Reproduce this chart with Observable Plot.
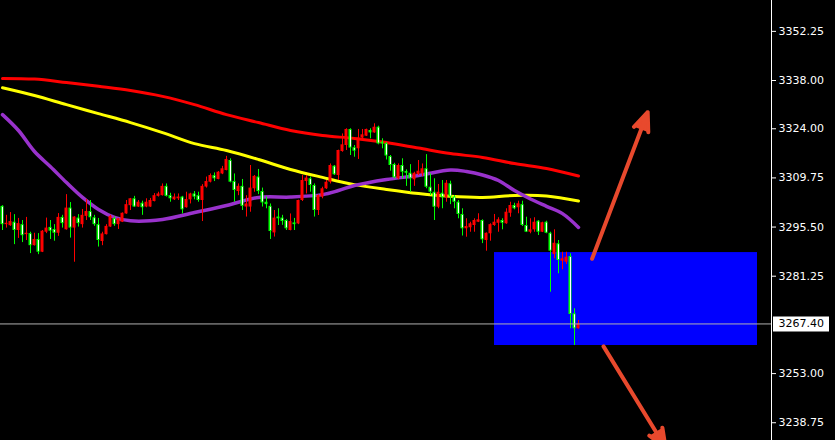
<!DOCTYPE html>
<html>
<head>
<meta charset="utf-8">
<script src="https://cdn.jsdelivr.net/npm/d3@7"></script>
<script src="https://cdn.jsdelivr.net/npm/@observablehq/plot@0.6"></script>
<style>
  html, body { margin: 0; padding: 0; background: #000; }
  #chart svg { display: block; overflow: hidden; }
</style>
</head>
<body>
<div id="chart"></div>
<script>
// OHLC bars, oldest first
const open = [3301.5,3296.2,3295.9,3296.9,3294.5,3296.2,3293.3,3293.6,3290.1,3291.9,3288.2,3294.0,3295.4,3294.8,3293.7,3298.3,3294.7,3301.0,3295.2,3298.1,3296.2,3298.6,3300.0,3298.2,3296.2,3291.3,3293.3,3295.5,3297.9,3296.2,3296.9,3299.3,3301.7,3303.7,3301.3,3302.4,3301.3,3301.3,3302.9,3304.4,3304.6,3307.3,3304.6,3303.4,3303.7,3304.2,3301.1,3303.4,3305.1,3304.6,3303.2,3307.1,3308.5,3310.4,3309.3,3310.9,3311.9,3314.8,3308.7,3305.8,3307.3,3301.3,3301.3,3306.6,3310.0,3305.8,3302.7,3301.5,3293.8,3298.4,3298.1,3297.4,3294.5,3296.7,3296.4,3303.2,3308.7,3309.5,3307.55,3300.3,3304.2,3306.6,3308.5,3313.15,3310.45,3317.4,3319.15,3323.8,3318.5,3318.2,3321.3,3321.85,3323.5,3322.8,3324.45,3320.1,3319.7,3315.95,3313.65,3309.5,3313.35,3311.6,3311.1,3309.2,3310.75,3310.9,3312.4,3307.05,3305.6,3301.25,3305.3,3304.0,3308.05,3304.2,3302.7,3299.15,3295.0,3295.3,3295.95,3296.9,3297.4,3291.6,3293.55,3295.95,3296.6,3297.4,3296.45,3299.5,3301.75,3301.1,3302.0,3295.95,3294.0,3294.7,3297.2,3294.0,3296.9,3293.7,3287.55,3290.65,3285.6,3285.3,3286.95,3270.35,3266.0];
const high = [3301.7,3298.9,3299.7,3299.1,3298.0,3297.4,3298.3,3294.0,3293.7,3293.6,3294.5,3298.1,3297.4,3296.2,3299.4,3298.9,3304.9,3302.6,3298.5,3299.1,3300.6,3303.5,3303.2,3298.9,3298.0,3294.0,3296.2,3298.9,3298.4,3298.0,3299.6,3303.2,3303.8,3304.4,3303.2,3303.0,3303.7,3303.8,3305.2,3305.6,3308.0,3308.0,3305.3,3305.1,3305.1,3304.4,3305.6,3305.3,3305.8,3305.6,3307.8,3310.0,3310.9,3311.2,3311.6,3313.1,3316.0,3315.3,3310.9,3308.0,3309.3,3304.6,3313.35,3310.45,3312.2,3306.8,3304.2,3302.2,3300.3,3300.8,3298.9,3297.7,3299.3,3298.0,3303.3,3310.45,3310.45,3310.0,3308.0,3304.85,3307.05,3309.0,3313.8,3313.35,3317.8,3322.5,3324.0,3324.0,3319.15,3323.8,3323.8,3323.9,3324.0,3325.45,3324.75,3321.1,3320.0,3316.25,3314.0,3313.8,3315.3,3312.1,3313.6,3311.4,3314.8,3313.8,3316.5,3310.9,3309.5,3307.85,3309.0,3309.0,3308.8,3304.65,3303.2,3300.8,3297.9,3296.9,3297.9,3299.35,3297.6,3293.8,3296.45,3299.15,3298.2,3297.9,3300.8,3302.7,3302.4,3303.0,3303.0,3298.35,3297.9,3298.2,3297.4,3296.9,3297.2,3294.0,3294.7,3291.6,3288.2,3288.2,3287.75,3271.8,3268.4];
const low = [3294.5,3295.2,3295.7,3290.4,3292.2,3291.0,3291.6,3287.8,3290.0,3287.5,3288.1,3293.6,3291.9,3291.4,3292.8,3295.2,3294.6,3292.3,3285.3,3295.5,3295.2,3297.4,3297.4,3295.7,3289.7,3290.1,3293.2,3295.4,3295.7,3294.8,3296.8,3299.2,3300.3,3301.2,3301.2,3298.9,3301.1,3301.2,3302.8,3304.2,3304.5,3304.2,3302.7,3303.2,3303.2,3299.3,3301.0,3302.2,3303.4,3302.7,3297.1,3306.8,3308.3,3308.7,3309.2,3310.7,3311.8,3308.3,3302.7,3304.6,3300.3,3298.4,3299.8,3305.6,3304.9,3301.3,3300.8,3291.9,3292.6,3295.95,3296.0,3294.5,3294.4,3294.5,3296.2,3302.9,3305.1,3305.6,3298.4,3298.85,3303.7,3306.4,3308.0,3310.45,3309.0,3317.2,3317.7,3316.25,3315.75,3315.1,3320.9,3321.75,3321.1,3322.7,3319.35,3318.2,3314.95,3311.7,3309.5,3309.2,3309.5,3307.3,3305.6,3307.3,3310.45,3310.15,3306.6,3304.65,3297.4,3300.8,3300.8,3302.7,3302.0,3300.8,3297.9,3292.9,3292.55,3294.0,3294.0,3296.8,3290.7,3288.5,3291.4,3295.7,3294.0,3294.7,3296.3,3298.35,3300.5,3299.35,3295.65,3293.9,3293.55,3294.0,3293.05,3293.9,3293.55,3276.6,3286.3,3281.95,3283.1,3284.65,3266.0,3261.15,3265.9];
const close = [3296.2,3296.6,3297.1,3294.5,3296.5,3293.0,3293.7,3290.1,3291.9,3288.2,3294.3,3295.2,3294.3,3293.7,3298.3,3296.5,3301.0,3295.2,3298.4,3296.5,3298.9,3300.0,3298.2,3296.2,3291.6,3293.5,3295.7,3298.6,3296.2,3297.9,3299.5,3302.0,3303.7,3301.3,3302.7,3301.1,3302.7,3303.2,3304.6,3305.1,3307.3,3304.4,3303.7,3304.2,3304.2,3300.5,3303.5,3305.1,3304.2,3303.2,3307.3,3308.7,3310.45,3309.5,3311.4,3312.4,3315.1,3308.5,3306.1,3307.3,3301.5,3302.2,3306.8,3310.2,3305.8,3302.5,3302.0,3294.2,3298.1,3297.9,3297.1,3295.0,3297.1,3296.2,3303.2,3309.0,3309.7,3307.55,3300.3,3304.65,3306.6,3308.5,3313.35,3310.65,3317.7,3319.35,3323.8,3318.4,3317.5,3321.3,3322.25,3323.8,3322.8,3324.45,3319.6,3319.6,3316.1,3313.35,3309.8,3313.35,3311.4,3311.1,3309.5,3311.1,3311.7,3312.4,3307.05,3305.6,3301.25,3305.6,3304.0,3308.2,3304.2,3302.7,3299.15,3295.0,3295.65,3296.45,3297.4,3297.6,3291.8,3293.7,3296.2,3296.9,3297.6,3296.6,3299.8,3301.75,3300.8,3302.25,3295.95,3294.0,3294.7,3296.9,3294.0,3296.75,3293.7,3288.5,3290.8,3285.8,3286.3,3286.75,3270.15,3266.0,3267.4];

// Moving averages, sampled by bar index
const slowMaBars = [0,8,16,24,32,40,48,56,64,72,80,88,96,104,112,120,128,136,144];
const slowMa = [3338.6,3338.4,3337.4,3336.3,3335.1,3333.4,3331.0,3328.1,3325.8,3323.5,3322.05,3321.2,3320.0,3318.4,3316.8,3315.7,3313.9,3312.5,3310.3];
const midMaBars = [0,8,16,24,32,40,48,56,64,72,80,88,96,104,112,120,128,136,144];
const midMa = [3335.9,3333.65,3331.0,3328.4,3325.8,3322.9,3319.7,3317.7,3315.1,3312.2,3309.9,3307.8,3306.4,3305.2,3304.4,3304.1,3304.65,3304.5,3303.05];
const fastMaBars = [0,4,8,12,16,20,24,28,32,40,48,56,64,72,80,84,88,96,104,112,116,120,124,128,132,136,140,144];
const fastMa = [3328.1,3323.5,3317.4,3313.0,3308.4,3304.1,3300.6,3298.3,3297.3,3297.7,3299.7,3301.75,3304.1,3304.2,3304.9,3306.1,3307.55,3309.3,3310.45,3312.05,3311.6,3310.6,3309.0,3306.1,3303.65,3301.5,3299.4,3295.4];

// Price axis
const priceTicks = [3352.25, 3338.00, 3324.00, 3309.75, 3295.50, 3281.25, 3253.00, 3238.75];
const lastPrice = 3267.40;

// Highlighted zone (bar range and price range)
const zoneBars = [123, 188.75];
const zonePrices = [3261.15, 3288.1];

// Scenario arrows: [fromBar, fromPrice, toBar, toPrice]
const upArrow = [147.4, 3286.3, 161.3, 3328.8];
const downArrow = [150.25, 3260.9, 165.75, 3231.6];

const bars = open.map((o, i) => ({i, o, h: high[i], l: low[i], c: close[i]}));
const upBars = bars.filter(d => d.c >= d.o);
const downBars = bars.filter(d => d.c < d.o);
const series = (idx, vals) => idx.map((i, k) => ({i, v: vals[k]}));
const zone = [{x1: zoneBars[0], x2: zoneBars[1], y1: zonePrices[0], y2: zonePrices[1]}];
const arrows = [upArrow, downArrow].map(([a, b, c, d]) => ({x1: a, y1: b, x2: c, y2: d}));

const RED = "#ff0000", GREEN = "#00ff00", ARROW = "#e8492d";
const halfBody = 0.375;

const chart = Plot.plot({
  width: 835,
  height: 440,
  marginLeft: 0,
  marginRight: 64,
  marginTop: 0,
  marginBottom: 0,
  style: {background: "#000", color: "#fff", fontFamily: "DejaVu Sans, sans-serif", fontSize: "11px"},
  x: {domain: [-0.5, 192.25], axis: null},
  y: {
    domain: [3233.6, 3361.2],
    axis: "right",
    ticks: priceTicks,
    tickFormat: d => d.toFixed(2),
    tickSize: 4,
    tickPadding: 3,
    label: null,
    line: true
  },
  marks: [
    Plot.rect(zone, {x1: "x1", x2: "x2", y1: "y1", y2: "y2", fill: "#0000ff"}),
    Plot.line(series(slowMaBars, slowMa), {x: "i", y: "v", stroke: RED, strokeWidth: 3, curve: "catmull-rom"}),
    Plot.line(series(midMaBars, midMa), {x: "i", y: "v", stroke: "#ffff00", strokeWidth: 3, curve: "catmull-rom"}),
    Plot.line(series(fastMaBars, fastMa), {x: "i", y: "v", stroke: "#9932cc", strokeWidth: 3.5, curve: "catmull-rom"}),
    // wicks
    Plot.ruleX(upBars, {x: "i", y1: "h", y2: "l", stroke: RED, strokeWidth: 1}),
    Plot.ruleX(downBars, {x: "i", y1: "h", y2: "l", stroke: GREEN, strokeWidth: 1}),
    // bodies
    Plot.rect(upBars, {x1: d => d.i - halfBody, x2: d => d.i + halfBody, y1: "o", y2: "c", fill: RED}),
    Plot.rect(downBars, {x1: d => d.i - halfBody, x2: d => d.i + halfBody, y1: "o", y2: "c", fill: GREEN}),
    Plot.ruleX(downBars.filter(d => d.o - d.c > 0.8), {x: "i", y1: "o", y2: "c", stroke: "#fff", strokeWidth: 1, insetTop: 1, insetBottom: 1}),
    // current price
    Plot.ruleY([lastPrice], {stroke: "#b0b0b0", strokeWidth: 1}),
    Plot.ruleY([lastPrice], {stroke: "#fff", strokeWidth: 15, insetLeft: 773, insetRight: -58}),
    Plot.text([lastPrice], {y: d => d, text: d => d.toFixed(2), frameAnchor: "right", dx: 7, textAnchor: "start", fill: "#000"}),
    // scenario arrows
    Plot.arrow(arrows, {x1: "x1", y1: "y1", x2: "x2", y2: "y2", stroke: ARROW, fill: ARROW, strokeWidth: 4, headLength: 7.5, headAngle: 45})
  ]
});

document.getElementById("chart").appendChild(chart);
</script>
</body>
</html>
